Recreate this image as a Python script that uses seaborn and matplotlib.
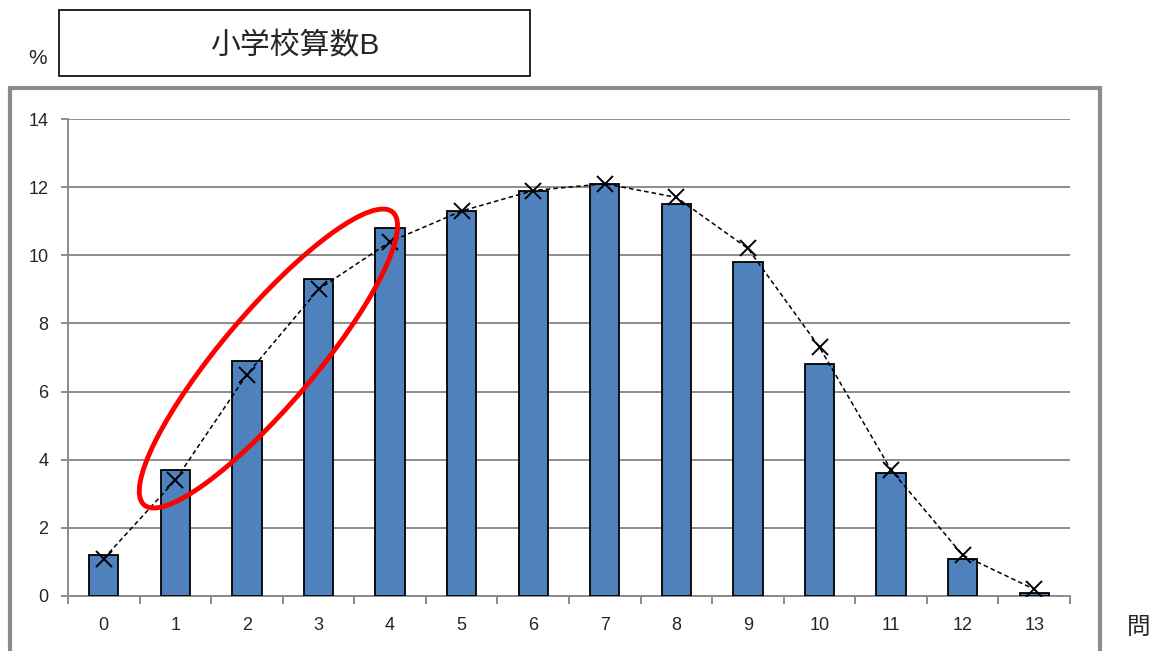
import matplotlib
matplotlib.use("Agg")
import matplotlib.pyplot as plt
import matplotlib.patches as mpatches
import matplotlib.transforms as mtransforms
import seaborn as sns
import numpy as np
import pandas as pd

categories = list(range(14))
bar_values = [1.2, 3.7, 6.9, 9.3, 10.8, 11.3, 11.9, 12.1, 11.5, 9.8, 6.8, 3.6, 1.1, 0.1]
line_values = [1.1, 3.4, 6.5, 9.0, 10.4, 11.3, 11.9, 12.1, 11.7, 10.2, 7.3, 3.7, 1.2, 0.2]
y_ticks = [0, 2, 4, 6, 8, 10, 12, 14]
title_text = "小学校算数B"
y_unit = "%"
x_unit = "問"

sns.set_theme(style="white")
plt.rcParams['font.family'] = ['Liberation Sans', 'Noto Sans CJK JP', 'DejaVu Sans']

df = pd.DataFrame({"cat": categories, "bar": bar_values, "line": line_values})

fig = plt.figure(figsize=(11.64, 6.51), dpi=100)
ax = fig.add_axes([68/1164, 1 - 596/651, (1070 - 68)/1164, (596 - 119)/651])

sns.barplot(data=df, x="cat", y="bar", color="#4F81BD", saturation=1, width=0.41,
            edgecolor="black", linewidth=1.3, ax=ax, zorder=3)
sns.lineplot(data=df, x="cat", y="line", color="black", linewidth=1.1, linestyle=(0, (3, 2)),
             marker="x", markersize=11, markeredgewidth=1.4, markeredgecolor="black",
             ax=ax, zorder=4)

ax.set_xlim(-0.5, 13.5)
ax.set_ylim(0, 14)
ax.set_yticks(y_ticks)
ax.set_yticklabels([str(t) for t in y_ticks], fontsize=13)
ax.set_xticks(categories)
ax.set_xticklabels([str(c) for c in categories], fontsize=13)
ax.set_xlabel("")
ax.set_ylabel("")
ax.yaxis.grid(True, color="#8c8c8c", linewidth=1.4, zorder=0)
ax.set_axisbelow(True)
for s in ["top", "right"]:
    ax.spines[s].set_visible(False)
for s in ["left", "bottom"]:
    ax.spines[s].set_color("#8c8c8c")
    ax.spines[s].set_linewidth(1.4)
ax.tick_params(axis="y", length=5, color="#8c8c8c", width=1.4, pad=9, left=True)
ax.tick_params(axis="x", length=0, pad=15)
# boundary ticks (Excel style)
ax.set_xticks(np.arange(-0.5, 13.6, 1), minor=True)
ax.tick_params(axis="x", which="minor", length=6, color="#8c8c8c", width=1.4, bottom=True)

# red ellipse annotation around categories 1-4
trans = fig.dpi_scale_trans + mtransforms.ScaledTranslation(2.30, 6.97, ax.transData)
ell = mpatches.Ellipse((0, 0), 3.84, 0.93, angle=49.7, fill=False, edgecolor="#FF0000",
                       linewidth=3.5, transform=trans, zorder=5, clip_on=False)
ax.add_patch(ell)

# outer chart frame
frame = mpatches.Rectangle((10/1164, -0.05), (1100 - 10)/1164, 1.05 - 88/651,
                           transform=fig.transFigure, fill=False, edgecolor="#8c8c8c",
                           linewidth=3)
fig.patches.append(frame)

# title box
tbox = mpatches.Rectangle((59/1164, 1 - 76/651), (530 - 59)/1164, (76 - 10)/651,
                          transform=fig.transFigure, fill=False, edgecolor="black",
                          linewidth=1.2)
fig.patches.append(tbox)
fig.text(295/1164, 1 - 46/651, title_text, ha="center", va="center", fontsize=21.5,
         family=['Liberation Sans', 'Noto Sans CJK JP', 'DejaVu Sans'])
fig.text(38/1164, 1 - 58/651, y_unit, ha="center", va="center", fontsize=15)
fig.text(1139/1164, 1 - 627/651, x_unit, ha="center", va="center", fontsize=17,
         family=['Noto Sans CJK JP', 'DejaVu Sans'])

fig.savefig("out.png", dpi=100)
